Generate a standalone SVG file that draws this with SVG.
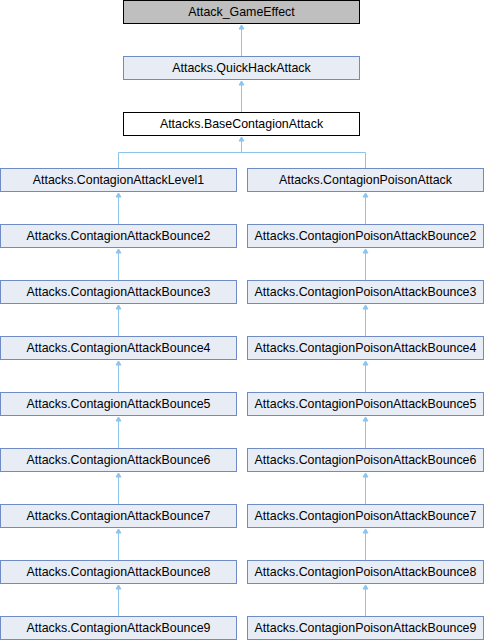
<svg xmlns="http://www.w3.org/2000/svg" width="484" height="640" viewBox="0 0 484 640">
<style>
.n{fill:#E8ECF5;stroke:#6F8BC6;stroke-width:1}
.t{font-family:"Liberation Sans",Arial,sans-serif;font-size:12.4px;fill:#000;text-anchor:middle}
.e{stroke:#8CC4EC;stroke-width:1;fill:none}
.a{fill:#8CC4EC;stroke:#8CC4EC;stroke-width:1}
</style>
<rect width="484" height="640" fill="#fff"/>
<g id="connectors">
<path class="e" d="M241.5,29V56M241.5,85V112M241.5,141V152.5M118.5,152.5H365.5M118.5,152.5V168M365.5,152.5V168"/>
<polygon class="a" points="241.5,25 244,29 239,29"/>
<polygon class="a" points="241.5,81 244,85 239,85"/>
<polygon class="a" points="241.5,137 244,141 239,141"/>
<path class="e" d="M118.5,197V224M118.5,253V280M118.5,309V336M118.5,365V392M118.5,421V448M118.5,477V504M118.5,533V560M118.5,589V616"/>
<path class="e" d="M365.5,197V224M365.5,253V280M365.5,309V336M365.5,365V392M365.5,421V448M365.5,477V504M365.5,533V560M365.5,589V616"/>
<g class="a">
<polygon points="118.5,193 121,197 116,197"/><polygon points="118.5,249 121,253 116,253"/><polygon points="118.5,305 121,309 116,309"/><polygon points="118.5,361 121,365 116,365"/><polygon points="118.5,417 121,421 116,421"/><polygon points="118.5,473 121,477 116,477"/><polygon points="118.5,529 121,533 116,533"/><polygon points="118.5,585 121,589 116,589"/>
<polygon points="365.5,193 368,197 363,197"/><polygon points="365.5,249 368,253 363,253"/><polygon points="365.5,305 368,309 363,309"/><polygon points="365.5,361 368,365 363,365"/><polygon points="365.5,417 368,421 363,421"/><polygon points="365.5,473 368,477 363,477"/><polygon points="365.5,529 368,533 363,533"/><polygon points="365.5,585 368,589 363,589"/>
</g>
</g>
<g id="n0"><rect x="123.5" y="0.5" width="236" height="23" fill="#BFBFBF" stroke="#000"/><text class="t" x="241.5" y="16">Attack_GameEffect</text></g>
<g id="n1"><rect class="n" x="123.5" y="56.5" width="236" height="23"/><text class="t" x="241.5" y="72">Attacks.QuickHackAttack</text></g>
<g id="n2"><rect x="123.5" y="112.5" width="236" height="23" fill="#fff" stroke="#000"/><text class="t" x="241.5" y="128">Attacks.BaseContagionAttack</text></g>
<g id="l1"><rect class="n" x="0.5" y="168.5" width="236" height="23"/><text class="t" x="118.5" y="184">Attacks.ContagionAttackLevel1</text></g>
<g id="l2"><rect class="n" x="0.5" y="224.5" width="236" height="23"/><text class="t" x="118.5" y="240">Attacks.ContagionAttackBounce2</text></g>
<g id="l3"><rect class="n" x="0.5" y="280.5" width="236" height="23"/><text class="t" x="118.5" y="296">Attacks.ContagionAttackBounce3</text></g>
<g id="l4"><rect class="n" x="0.5" y="336.5" width="236" height="23"/><text class="t" x="118.5" y="352">Attacks.ContagionAttackBounce4</text></g>
<g id="l5"><rect class="n" x="0.5" y="392.5" width="236" height="23"/><text class="t" x="118.5" y="408">Attacks.ContagionAttackBounce5</text></g>
<g id="l6"><rect class="n" x="0.5" y="448.5" width="236" height="23"/><text class="t" x="118.5" y="464">Attacks.ContagionAttackBounce6</text></g>
<g id="l7"><rect class="n" x="0.5" y="504.5" width="236" height="23"/><text class="t" x="118.5" y="520">Attacks.ContagionAttackBounce7</text></g>
<g id="l8"><rect class="n" x="0.5" y="560.5" width="236" height="23"/><text class="t" x="118.5" y="576">Attacks.ContagionAttackBounce8</text></g>
<g id="l9"><rect class="n" x="0.5" y="616.5" width="236" height="23"/><text class="t" x="118.5" y="632">Attacks.ContagionAttackBounce9</text></g>
<g id="r1"><rect class="n" x="247.5" y="168.5" width="236" height="23"/><text class="t" x="365.5" y="184">Attacks.ContagionPoisonAttack</text></g>
<g id="r2"><rect class="n" x="247.5" y="224.5" width="236" height="23"/><text class="t" x="365.5" y="240">Attacks.ContagionPoisonAttackBounce2</text></g>
<g id="r3"><rect class="n" x="247.5" y="280.5" width="236" height="23"/><text class="t" x="365.5" y="296">Attacks.ContagionPoisonAttackBounce3</text></g>
<g id="r4"><rect class="n" x="247.5" y="336.5" width="236" height="23"/><text class="t" x="365.5" y="352">Attacks.ContagionPoisonAttackBounce4</text></g>
<g id="r5"><rect class="n" x="247.5" y="392.5" width="236" height="23"/><text class="t" x="365.5" y="408">Attacks.ContagionPoisonAttackBounce5</text></g>
<g id="r6"><rect class="n" x="247.5" y="448.5" width="236" height="23"/><text class="t" x="365.5" y="464">Attacks.ContagionPoisonAttackBounce6</text></g>
<g id="r7"><rect class="n" x="247.5" y="504.5" width="236" height="23"/><text class="t" x="365.5" y="520">Attacks.ContagionPoisonAttackBounce7</text></g>
<g id="r8"><rect class="n" x="247.5" y="560.5" width="236" height="23"/><text class="t" x="365.5" y="576">Attacks.ContagionPoisonAttackBounce8</text></g>
<g id="r9"><rect class="n" x="247.5" y="616.5" width="236" height="23"/><text class="t" x="365.5" y="632">Attacks.ContagionPoisonAttackBounce9</text></g>
</svg>
